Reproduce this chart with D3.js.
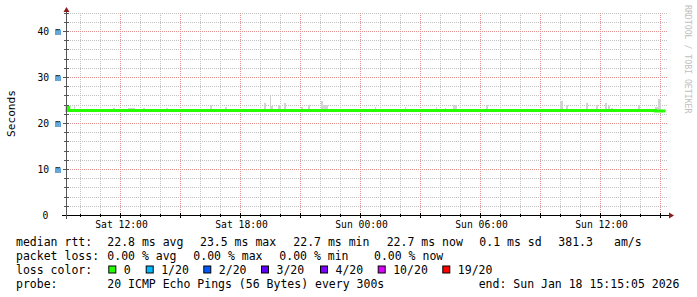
<!DOCTYPE html>
<html><head><meta charset="utf-8">
<script src="https://cdn.jsdelivr.net/npm/d3@7"></script>
<style>
html,body{margin:0;padding:0;background:#fff;}
svg{display:block;}
text{font-family:"DejaVu Sans Mono",monospace;fill:#000;}
</style></head><body>
<svg id="c" width="697" height="297"></svg>
<script>
// ---------- data ----------
const startTime = "2026-01-17 09:15:05";
const endTime   = "2026-01-18 15:15:05";
const yTickValues = [0, 10, 20, 30, 40];
const yTickLabels = ["0", "10 m", "20 m", "30 m", "40 m"];
const xLabelTimes = ["2026-01-17 12:00", "2026-01-17 18:00", "2026-01-18 00:00", "2026-01-18 06:00", "2026-01-18 12:00"];
const xLabels = ["Sat 12:00", "Sat 18:00", "Sun 00:00", "Sun 06:00", "Sun 12:00"];

// median RTT (ms), step series
const medianTimes = ["2026-01-17 09:15", "2026-01-17 09:20", "2026-01-17 09:25", "2026-01-18 14:45", "2026-01-18 15:15"];
const medianMs    = [22.8, 23.5, 22.8, 22.7, 22.7];

// smoke (max ping spread above median), ms
const smokeStart = ["2026-01-17 09:40","2026-01-17 11:37","2026-01-17 12:22","2026-01-17 13:07","2026-01-17 13:37","2026-01-17 14:16","2026-01-17 15:31","2026-01-17 16:28","2026-01-17 16:58","2026-01-17 17:13","2026-01-17 17:37","2026-01-17 18:10","2026-01-17 18:46","2026-01-17 19:10","2026-01-17 19:28","2026-01-17 19:33","2026-01-17 19:52","2026-01-17 20:10","2026-01-17 21:01","2026-01-17 21:22","2026-01-17 22:01","2026-01-17 22:07","2026-01-17 22:43","2026-01-18 00:43","2026-01-18 01:22","2026-01-18 02:13","2026-01-18 02:52","2026-01-18 03:46","2026-01-18 04:13","2026-01-18 04:37","2026-01-18 05:37","2026-01-18 06:16","2026-01-18 06:31","2026-01-18 07:13","2026-01-18 07:28","2026-01-18 08:16","2026-01-18 09:16","2026-01-18 09:58","2026-01-18 10:16","2026-01-18 11:16","2026-01-18 11:46","2026-01-18 12:13","2026-01-18 12:22","2026-01-18 12:31","2026-01-18 13:28","2026-01-18 13:52","2026-01-18 14:43","2026-01-18 14:52"];
const smokeEnd   = ["2026-01-17 09:45","2026-01-17 11:45","2026-01-17 12:45","2026-01-17 13:15","2026-01-17 13:45","2026-01-17 14:24","2026-01-17 15:39","2026-01-17 16:36","2026-01-17 17:06","2026-01-17 17:21","2026-01-17 17:45","2026-01-17 18:15","2026-01-17 18:57","2026-01-17 19:18","2026-01-17 19:33","2026-01-17 19:39","2026-01-17 20:03","2026-01-17 20:18","2026-01-17 21:09","2026-01-17 21:30","2026-01-17 22:07","2026-01-17 22:24","2026-01-17 22:48","2026-01-18 00:48","2026-01-18 01:36","2026-01-18 02:18","2026-01-18 03:06","2026-01-18 03:51","2026-01-18 04:18","2026-01-18 04:51","2026-01-18 05:42","2026-01-18 06:24","2026-01-18 06:39","2026-01-18 07:21","2026-01-18 07:39","2026-01-18 08:33","2026-01-18 09:24","2026-01-18 10:09","2026-01-18 10:24","2026-01-18 11:24","2026-01-18 11:54","2026-01-18 12:21","2026-01-18 12:30","2026-01-18 12:39","2026-01-18 13:33","2026-01-18 14:00","2026-01-18 14:52","2026-01-18 15:03"];
const smokeTopMs = [23.8,23.4,23.4,23.4,23.15,23.4,23.15,24.0,23.15,23.6,23.15,23.15,23.15,24.46,26.0,23.8,24.0,24.46,23.6,24.0,24.9,24.0,23.15,23.6,23.15,23.6,23.15,23.6,23.4,24.0,23.15,24.0,23.15,23.15,23.15,23.15,23.15,24.9,24.0,24.46,24.0,24.46,23.8,23.4,23.15,24.0,23.6,25.3];

// legend
const rttStats  = ["22.8 ms avg", "23.5 ms max", "22.7 ms min", "22.7 ms now", "0.1 ms sd", "381.3", "am/s"];
const lossStats = ["0.00 % avg", "0.00 % max", "0.00 % min", "0.00 % now"];
const lossLabels = ["0", "1/20", "2/20", "3/20", "4/20", "10/20", "19/20"];
const lossColors = ["#26ff00", "#00b8ff", "#0059ff", "#5e00ff", "#7e00ff", "#dd00ff", "#ff0000"];
const probeText = "20 ICMP Echo Pings (56 Bytes) every 300s";
const endText = "end: Sun Jan 18 15:15:05 2026";

// ---------- layout ----------
const svg = d3.select("#c");
const pS = d3.timeParse("%Y-%m-%d %H:%M:%S");
const parse = s => pS(s.length === 16 ? s + ":00" : s);
const t0 = parse(startTime), t1 = parse(endTime);
const x = d3.scaleTime().domain([t0, t1]).range([65.5, 665.5]);
const y = d3.scaleLinear().domain([0, 44]).range([215.5, 215.5 - 44 * 4.6]);
const pix = v => Math.floor(v);
const plotL = 66, plotR = 668, plotT = 13, plotB = 215;
const minorCol = "#c0c0c0", majorCol = "#e39090";

const hourTicks = x.ticks(d3.timeHour.every(1)).filter(h => h > t0 && h < t1);
const isMajorHour = h => h.getHours() % 3 === 0;

// dotted grid built as 1x1 squares (1 px on, 1 px off)
let minorD = "", majorD = "";
d3.range(2, 45, 2).forEach(v => {
  const yy = pix(y(v));
  let d = "";
  for (let xx = plotL; xx < plotR; xx += 2) d += `M${xx},${yy}h1v1h-1z`;
  if (v % 10 === 0) majorD += d; else minorD += d;
});
hourTicks.forEach(h => {
  const xx = pix(x(h));
  let d = "";
  for (let yy = plotT; yy < plotB; yy += 2) d += `M${xx},${yy}h1v1h-1z`;
  if (isMajorHour(h)) majorD += d; else minorD += d;
});
const grid = svg.append("g").attr("shape-rendering", "crispEdges");
grid.append("path").attr("d", minorD).attr("fill", minorCol);
grid.append("path").attr("d", majorD).attr("fill", majorCol);

// smoke
const smoke = svg.append("g").attr("shape-rendering", "crispEdges");
smokeStart.forEach((s, i) => {
  const xa = x(parse(s)), xb = x(parse(smokeEnd[i]));
  smoke.append("rect").attr("x", xa).attr("width", Math.max(1, xb - xa))
    .attr("y", y(smokeTopMs[i])).attr("height", y(22.5) - y(smokeTopMs[i]))
    .attr("fill", "#d2d2d2");
});

// median line
const med = medianTimes.map((t, i) => ({ t: parse(t), v: medianMs[i] }));
svg.append("path").datum(med)
  .attr("d", d3.line().x(d => x(d.t)).y(d => y(d.v)).curve(d3.curveStepAfter))
  .attr("fill", "none").attr("stroke", "#26ff00").attr("stroke-width", 3);

// axes
const ax = svg.append("g").attr("shape-rendering", "crispEdges");
ax.append("rect").attr("x", 62).attr("y", 215).attr("width", 607).attr("height", 1).attr("fill", "#000");
ax.append("rect").attr("x", 66).attr("y", 11).attr("width", 1).attr("height", 208).attr("fill", "#555");
hourTicks.forEach(h => {
  const major = isMajorHour(h);
  ax.append("rect").attr("x", pix(x(h))).attr("y", major ? 213 : 214)
    .attr("width", 1).attr("height", major ? 5 : 3).attr("fill", "#000");
});
d3.range(2, 45, 2).forEach(v => {
  ax.append("rect").attr("x", v % 10 === 0 ? 63 : 64).attr("y", pix(y(v)))
    .attr("width", v % 10 === 0 ? 6 : 5).attr("height", 1).attr("fill", "#555");
});
// arrows
svg.append("path").attr("d", "M669,212.5 L674,215.5 L669,218.5 Z").attr("fill", "#8b1a1a");
svg.append("path").attr("d", "M63.5,12 L66.5,7 L69.5,12 Z").attr("fill", "#8b1a1a");

// y labels
const axisFont = 9.7;
yTickValues.forEach((v, i) => {
  const right = v === 0 ? 48.3 : 60.8;
  svg.append("text").attr("x", right).attr("y", pix(y(v)) + 4)
    .attr("text-anchor", "end").style("font-size", axisFont + "px").text(yTickLabels[i]);
});
// x labels
xLabelTimes.forEach((t, i) => {
  svg.append("text").attr("x", x(parse(t)) + 1).attr("y", 227.5)
    .attr("text-anchor", "middle").style("font-size", axisFont + "px").text(xLabels[i]);
});

// axis title
svg.append("text").attr("transform", "translate(14.5,113.5) rotate(-90)")
  .attr("text-anchor", "middle").style("font-size", "11.1px").text("Seconds");
// watermark
svg.append("text").attr("transform", "translate(684.5,5) rotate(90)")
  .style("font-size", "8.2px").style("fill", "#c0c0c0").text("RRDTOOL / TOBI OETIKER");

// legend
const lf = "11.5px";
const leg = (xx, yy, s) => svg.append("text").attr("x", xx).attr("y", yy).style("font-size", lf).attr("xml:space", "preserve").text(s);
const row = [245.5, 259.5, 273.5, 287.5];
leg(16, row[0], "median rtt:");
[107.3, 200, 293.3, 386.7, 479.3, 558.3, 614].forEach((xx, i) => leg(xx, row[0], rttStats[i]));
leg(16, row[1], "packet loss:");
[107.3, 193.3, 279.3, 374].forEach((xx, i) => leg(xx, row[1], lossStats[i]));
leg(16, row[2], "loss color:");
const boxX = [108.3, 145.7, 203.3, 261, 320, 377.7, 442.3];
lossLabels.forEach((l, i) => {
  svg.append("rect").attr("x", boxX[i] + 0.5).attr("y", 266).attr("width", 7).attr("height", 7)
    .attr("fill", lossColors[i]).attr("stroke", "#000").attr("stroke-width", 1);
  leg(boxX[i] + 15.5, row[2], l);
});
leg(16, row[3], "probe:");
leg(107.3, row[3], probeText);
leg(478.7, row[3], endText);
</script>
</body></html>
